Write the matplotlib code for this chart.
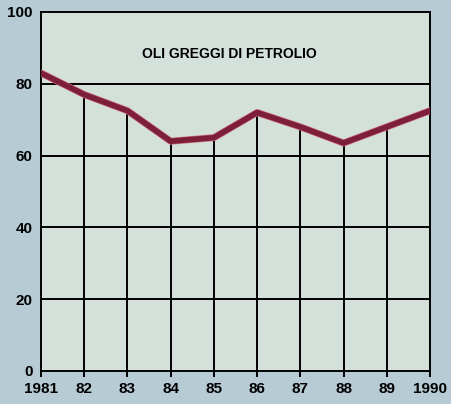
import matplotlib
matplotlib.use("Agg")
import matplotlib.pyplot as plt
import matplotlib.patheffects as pe

# oli greggi di petrolio, 1981-1990
anni = [1981, 1982, 1983, 1984, 1985, 1986, 1987, 1988, 1989, 1990]
valori = [83, 77, 72.5, 64, 65, 72, 68, 63.5, 68, 72.5]
etichette_x = ["1981", "82", "83", "84", "85", "86", "87", "88", "89", "1990"]
tick_y = [0, 20, 40, 60, 80, 100]

fig = plt.figure(figsize=(4.51, 4.04), dpi=100)
fig.patch.set_facecolor("#b7cbd4")
ax = fig.add_axes([0.0909, 0.0817, 0.8625, 0.8886])
ax.set_facecolor("#d4e0da")

# griglia orizzontale piena, verticali solo fino alla curva
for v in tick_y[1:-1]:
    ax.axhline(v, color="black", lw=1.4, zorder=1)
ax.vlines(anni[1:-1], 0, valori[1:-1], color="black", lw=1.4, zorder=1)

ax.plot(anni, valori, color="#7d1f38", lw=4.0, solid_capstyle="round",
        solid_joinstyle="round", zorder=3,
        path_effects=[pe.Stroke(linewidth=5.0, foreground="#c86a82"), pe.Normal()])

ax.text(1985.35, 88.3, "OLI GREGGI DI PETROLIO", ha="center", va="center",
        fontsize=10, fontweight="bold", family=["Liberation Sans", "DejaVu Sans"])

ax.set_xlim(1981, 1990)
ax.set_ylim(0, 100)
ax.set_xticks(anni)
ax.set_xticklabels(etichette_x)
ax.set_yticks(tick_y)
for s in ax.spines.values():
    s.set_color("black")
    s.set_linewidth(1.4)
ax.tick_params(axis="x", length=4, width=1.4, direction="out", pad=4)
ax.tick_params(axis="y", length=0, pad=6)
for lab in ax.get_xticklabels() + ax.get_yticklabels():
    lab.set_fontsize(11)
    lab.set_fontweight("bold")
    lab.set_family(["Liberation Sans", "DejaVu Sans"])

fig.savefig("out.png", dpi=100, facecolor=fig.get_facecolor())
